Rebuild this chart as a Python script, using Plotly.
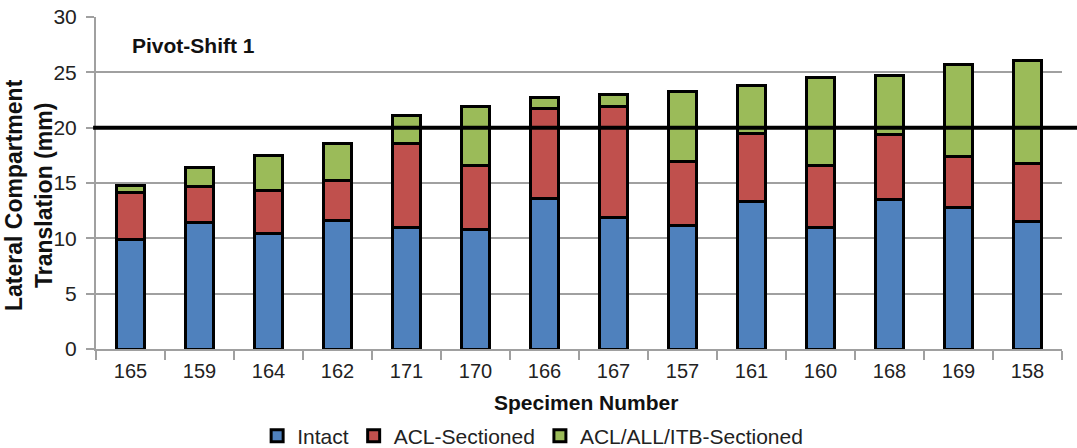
import plotly.graph_objects as go

specimens = ["165", "159", "164", "162", "171", "170", "166", "167", "157", "161", "160", "168", "169", "158"]
intact = [9.9, 11.4, 10.4, 11.6, 11.0, 10.8, 13.6, 11.9, 11.2, 13.3, 11.0, 13.5, 12.8, 11.5]
acl_cum = [14.1, 14.7, 14.3, 15.2, 18.6, 16.6, 21.7, 21.9, 16.9, 19.5, 16.6, 19.4, 17.4, 16.8]
total = [14.8, 16.4, 17.5, 18.6, 21.1, 21.9, 22.7, 23.0, 23.3, 23.8, 24.5, 24.7, 25.7, 26.1]
threshold = 20

acl_inc = [round(a - i, 2) for a, i in zip(acl_cum, intact)]
all_inc = [round(t - a, 2) for t, a in zip(total, acl_cum)]

series_names = ["Intact", "ACL-Sectioned", "ACL/ALL/ITB-Sectioned"]
series_vals = [intact, acl_inc, all_inc]
colors = ["#4F81BD", "#C0504D", "#9BBB59"]

fig = go.Figure()
for name, vals, col in zip(series_names, series_vals, colors):
    fig.add_trace(go.Bar(
        x=specimens, y=vals, name=name,
        marker=dict(color=col, line=dict(color="black", width=3)),
    ))

fig.add_shape(type="line", xref="paper", yref="y", x0=-0.003, x1=1.02,
              y0=threshold, y1=threshold, line=dict(color="black", width=4), layer="above")

font_family = "Liberation Sans, Arial, sans-serif"

fig.update_layout(
    barmode="stack",
    bargap=0.58,
    width=1077, height=448,
    margin=dict(l=96, r=15, t=17, b=99, autoexpand=False),
    plot_bgcolor="white", paper_bgcolor="white",
    font=dict(family=font_family, size=20, color="#222"),
    showlegend=True,
    legend=dict(orientation="h", x=0.452, xanchor="center",
                yref="container", y=(448 - 436) / 448, yanchor="middle",
                font=dict(size=21, color="#222"), traceorder="normal"),
    xaxis=dict(
        type="category",
        showgrid=False,
        showline=True, linecolor="#A0A0A0", linewidth=2,
        ticks="outside", tickson="boundaries", ticklen=9, tickcolor="#A0A0A0", tickwidth=1.5,
        tickfont=dict(size=20, color="#222"), ticklabelstandoff=3,
    ),
    yaxis=dict(
        range=[0, 30], dtick=5,
        showgrid=True, gridcolor="#A0A0A0", gridwidth=1.5,
        showline=True, linecolor="#A0A0A0", linewidth=2,
        ticks="outside", ticklen=8, tickcolor="#A0A0A0", tickwidth=1.5,
        tickfont=dict(size=21, color="#222"), ticklabelstandoff=5,
        zeroline=False,
    ),
    annotations=[
        dict(text="<b>Pivot-Shift 1</b>", xref="paper", yref="paper",
             x=(130 - 96) / 966, y=(349 - 45) / 332, xanchor="left", yanchor="middle",
             showarrow=False, font=dict(size=21, color="#111")),
        dict(text="<b>Lateral Compartment<br>Translation (mm)</b>", xref="paper", yref="paper",
             x=(29 - 96) / 966, y=(349 - 195) / 332, xanchor="center", yanchor="middle", textangle=-90,
             showarrow=False, font=dict(size=23, color="#111")),
        dict(text="<b>Specimen Number</b>", xref="paper", yref="paper",
             x=(586 - 96) / 966, y=(349 - 402) / 332, xanchor="center", yanchor="middle",
             showarrow=False, font=dict(size=21, color="#111")),
    ],
)

fig.write_html("out.html", config={"displayModeBar": False},
               post_script="document.body.style.margin='0px';")
